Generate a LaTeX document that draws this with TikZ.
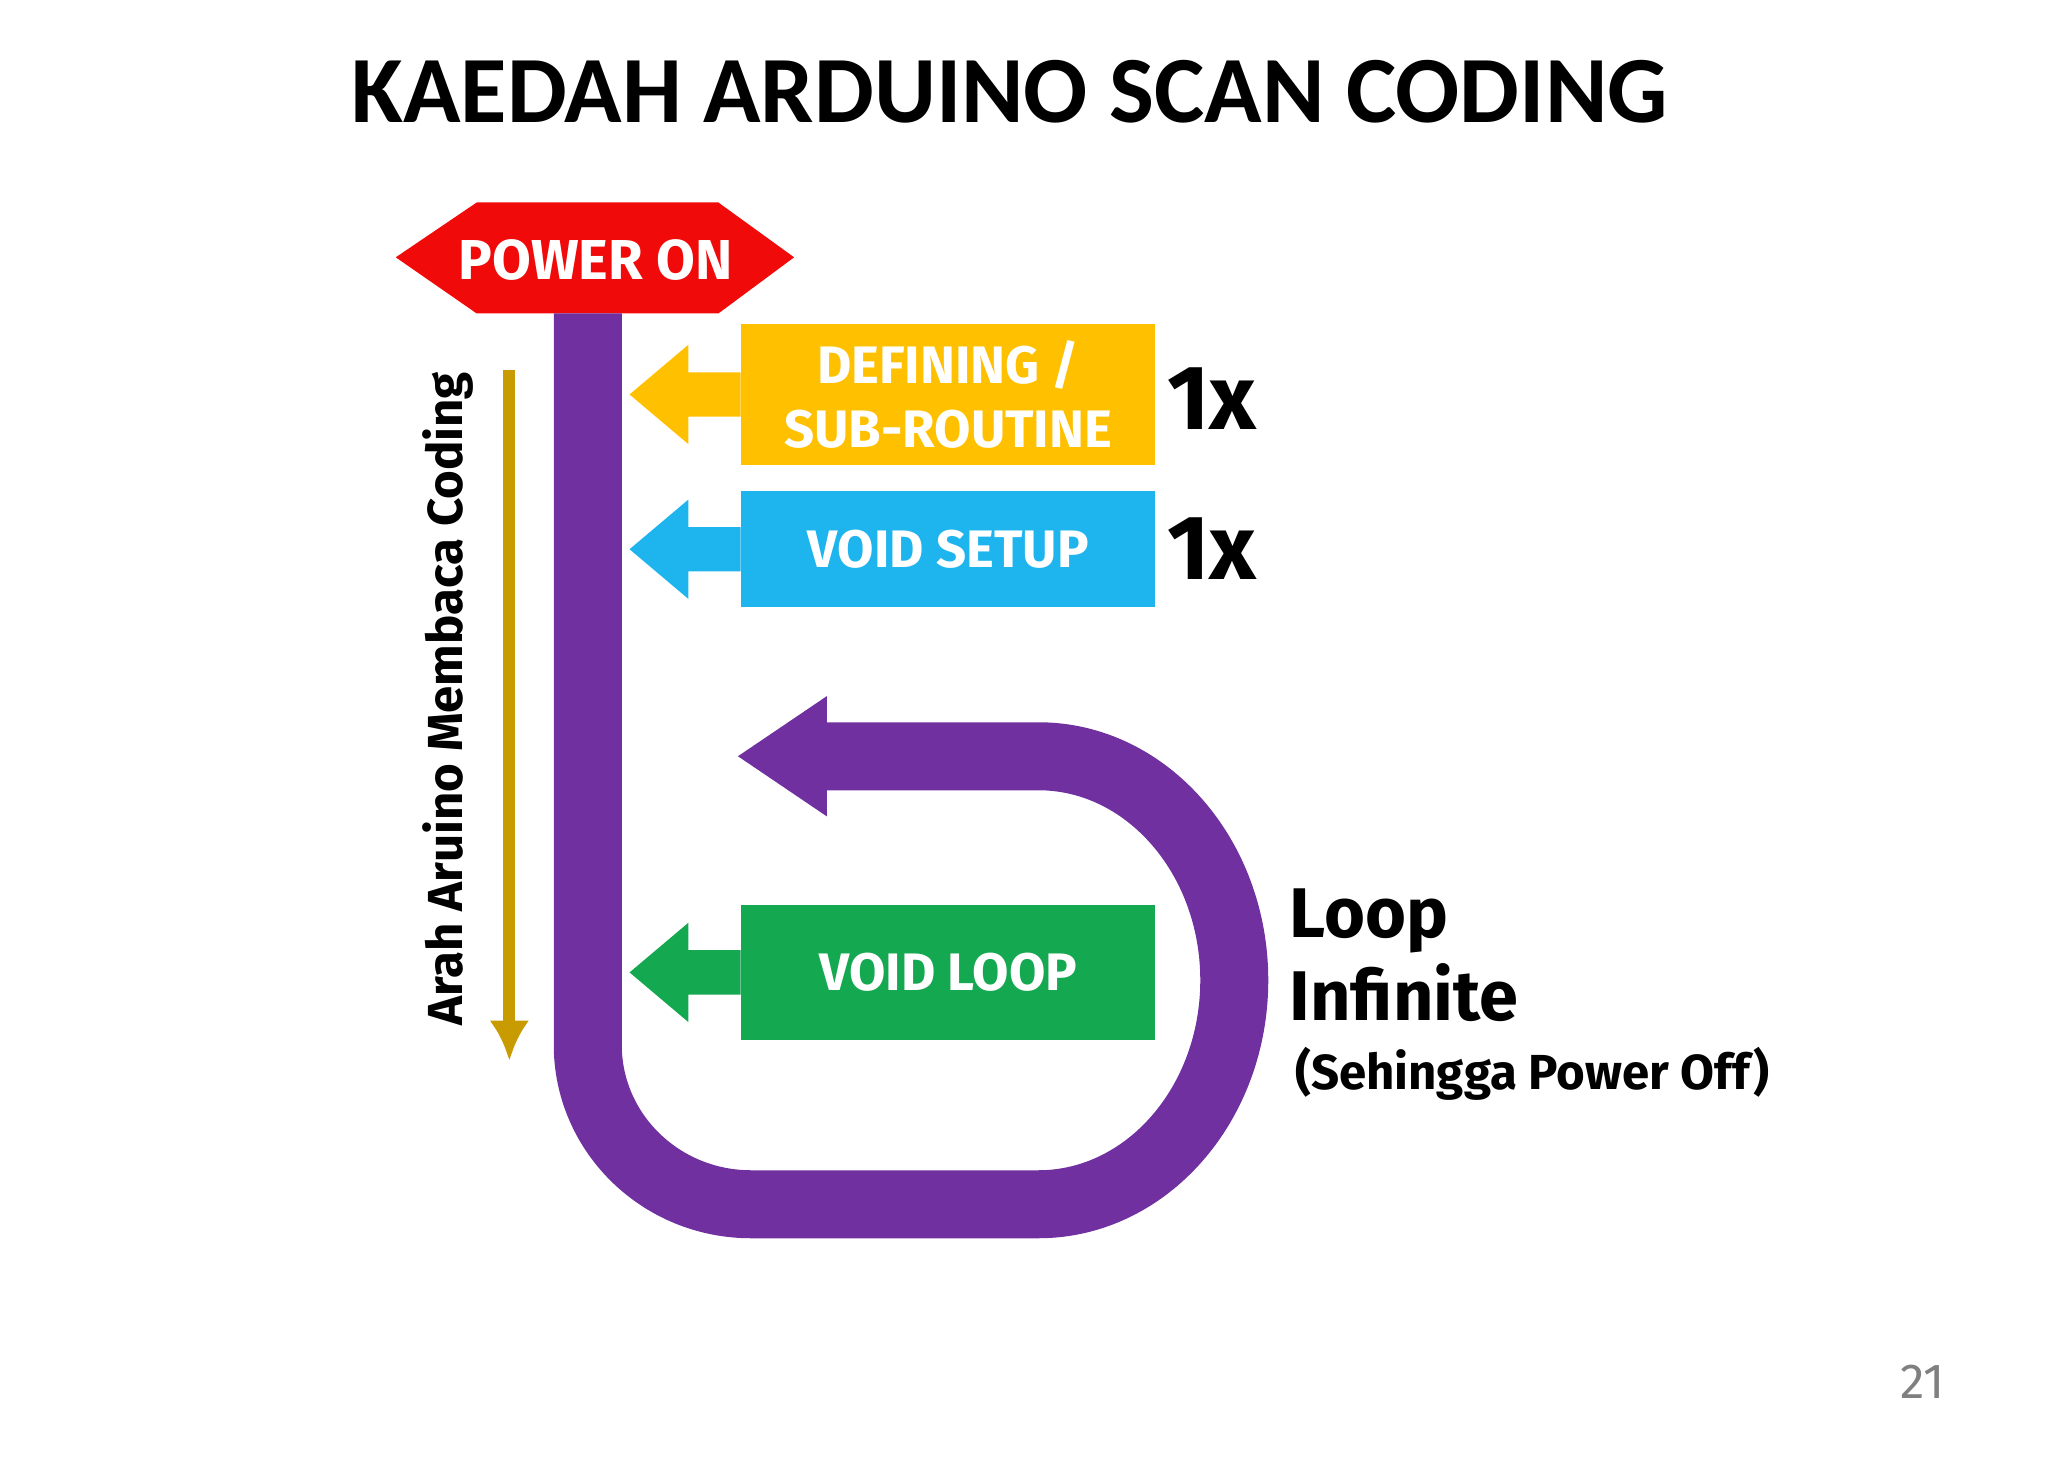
\documentclass[tikz,border=0pt]{standalone}
\usepackage{fontspec}
\setmainfont{Fira Sans}
\newfontfamily\titlefont{Carlito}
\usetikzlibrary{positioning,arrows.meta}
\definecolor{pwrred}{HTML}{F00A0A}
\definecolor{defyellow}{HTML}{FFC000}
\definecolor{setupblue}{HTML}{1EB4EE}
\definecolor{loopgreen}{HTML}{14A850}
\definecolor{looppurple}{HTML}{7030A0}
\definecolor{readgold}{HTML}{C89B00}
\begin{document}
\begin{tikzpicture}[x=0.01306cm,y=-0.01306cm,>=latex,
boxtext/.style={text=white,font=\bfseries\fontsize{15}{18}\selectfont,align=center},
sidetext/.style={font=\bfseries\fontsize{20}{22}\selectfont,anchor=west},
times/.style={font=\bfseries\fontsize{26}{28}\selectfont}]
\useasboundingbox (0,0) rectangle (1568,1115);

\node[font=\titlefont\bfseries\fontsize{27}{30}\selectfont] (title) at (773,70) {KAEDAH ARDUINO SCAN CODING};

% power on
\fill[pwrred] (303,197) -- (365,155) -- (550,155) -- (608,197) -- (550,240) -- (365,240) -- cycle;
\node[boxtext,font=\bfseries\fontsize{16}{18}\selectfont] (power) at (456,199) {POWER ON};

% purple loop
\coordinate (top) at (450,240);
\coordinate (bl) at (450,800);
\coordinate (br) at (795,922);
\coordinate (head) at (633,579);
\draw[looppurple,line width=0.68cm] (top) -- (bl) arc[start angle=180,end angle=270,x radius=125,y radius=-122]
  -- (br) arc[start angle=-90,end angle=90,x radius=150,y radius=-171.5] -- (head);
\fill[looppurple] (565,579) -- (633,533) -- (633,625) -- cycle;

% boxes with arrows
\foreach \name/\col/\ya/\yb/\txt in {def/defyellow/248/356/{DEFINING /\\SUB-ROUTINE},
  setup/setupblue/376/465/VOID SETUP, loop/loopgreen/693/796/VOID LOOP}{
  \fill[\col] (567,\ya) rectangle (884,\yb);
  \pgfmathsetmacro\ym{(\ya+\yb)/2}
  \fill[\col] (482,\ym) -- (527,\ym-38) -- (527,\ym-17) -- (567,\ym-17) -- (567,\ym+17) -- (527,\ym+17) -- (527,\ym+38) -- cycle;
  \node[boxtext] (\name) at (726,\ym) {\txt};
}
\node[times] (once1) at (928,305) {1x};
\node[times] (once2) at (928,420) {1x};

% reading direction
\coordinate (rtop) at (390,283);
\coordinate (rbot) at (390,812);
\draw[readgold,line width=1.2mm,-{Latex[length=4mm,width=4mm]}] (rtop) -- (rbot);
\node[rotate=90,font=\bfseries\fontsize{14}{16}\selectfont] (arah) at (343,535) {Arah Aruino Membaca Coding};

\node[sidetext] (lp) at (978,705) {Loop};
\node[sidetext] (inf) at (978,760) {Infinite};
\node[sidetext,font=\bfseries\fontsize{14}{16}\selectfont] (sehingga) at (982,822) {(Sehingga Power Off)};
\node[text=gray,font=\fontsize{14}{16}\selectfont] (page) at (1472,1058) {21};
\end{tikzpicture}
\end{document}
